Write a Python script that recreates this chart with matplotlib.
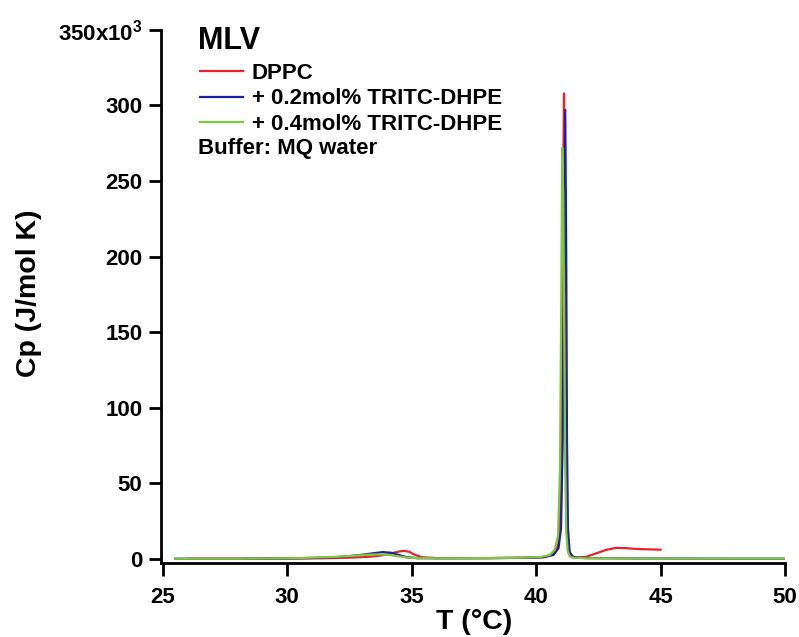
import matplotlib.pyplot as plt
from matplotlib.ticker import FuncFormatter

plt.rcParams['font.family'] = ['Liberation Sans', 'DejaVu Sans']
plt.rcParams['font.weight'] = 'bold'
plt.rcParams['mathtext.fontset'] = 'custom'
plt.rcParams['mathtext.bf'] = 'Liberation Sans:bold'

# Cp values in kJ/(mol K) (axis shows x10^3)
T_dppc = [26.0, 28.0, 30.0, 31.5, 32.5, 33.3, 33.8, 34.2, 34.5, 34.7, 34.9, 35.1, 35.4,
          36.0, 38.0, 39.5, 40.3, 40.7, 40.9, 41.0, 41.05, 41.09, 41.12, 41.15, 41.18,
          41.22, 41.3, 41.45, 41.7, 42.0, 42.4, 42.8, 43.2, 43.6, 44.0, 44.5, 45.0]
cp_dppc = [0.0, 0.0, 0.1, 0.3, 0.7, 1.3, 2.2, 3.6, 4.8, 5.2, 4.6, 2.8, 1.0,
           0.4, 0.4, 0.6, 1.0, 3.0, 10.0, 40.0, 120.0, 250.0, 308.0, 250.0, 110.0,
           30.0, 6.0, 1.5, 0.8, 1.2, 3.5, 5.8, 7.2, 7.0, 6.5, 6.2, 6.0]

T_02 = [25.5, 28.0, 30.0, 31.0, 32.0, 32.5, 33.0, 33.5, 33.85, 34.2, 34.5, 34.8, 35.2,
        36.0, 38.0, 39.5, 40.3, 40.7, 40.9, 41.0, 41.07, 41.12, 41.17, 41.21, 41.24,
        41.28, 41.35, 41.5, 42.0, 44.0, 46.0, 48.0, 50.0]
cp_02 = [0.0, 0.0, 0.2, 0.5, 1.1, 1.7, 2.6, 3.7, 4.4, 3.9, 2.4, 1.0, 0.4,
         0.3, 0.4, 0.6, 1.0, 2.5, 7.0, 20.0, 80.0, 200.0, 297.0, 200.0, 80.0,
         20.0, 4.0, 1.0, 0.4, 0.2, 0.1, 0.0, 0.0]

T_04 = [25.5, 28.0, 30.0, 31.0, 32.0, 32.7, 33.2, 33.6, 34.0, 34.4, 34.8, 35.3,
        36.0, 38.0, 39.5, 40.2, 40.55, 40.75, 40.88, 40.96, 41.01, 41.05, 41.09, 41.13,
        41.17, 41.21, 41.27, 41.35, 41.5, 42.0, 44.0, 46.0, 48.0, 50.0]
cp_04 = [0.0, 0.0, 0.3, 0.7, 1.3, 2.0, 2.6, 2.9, 2.7, 1.8, 0.8, 0.4,
         0.3, 0.4, 0.7, 1.2, 2.5, 6.0, 15.0, 60.0, 170.0, 272.0, 240.0, 150.0,
         60.0, 18.0, 5.0, 1.5, 0.6, 0.3, 0.2, 0.1, 0.1, 0.1]

series_labels = ['DPPC', '+ 0.2mol% TRITC-DHPE', '+ 0.4mol% TRITC-DHPE']
colors = ['#ec2228', '#1e1eaa', '#7ec83c']
y_ticks = [0, 50, 100, 150, 200, 250, 300, 350]
x_ticks = [25, 30, 35, 40, 45, 50]

fig = plt.figure(figsize=(7.99, 6.37), dpi=100)
ax = fig.add_axes([0.2015, 0.116, 0.781, 0.837])

ax.plot(T_dppc, cp_dppc, color=colors[0], lw=1.6, label=series_labels[0])
ax.plot(T_02, cp_02, color=colors[1], lw=1.6, label=series_labels[1])
ax.plot(T_04, cp_04, color=colors[2], lw=1.6, label=series_labels[2])

ax.set_xlim(24.93, 50)
ax.set_ylim(-2.9, 350)
ax.set_xticks(x_ticks)
ax.set_yticks(y_ticks)

def yfmt(v, pos):
    if v == 350:
        return r'350x10$^{\mathbf{3}}$'
    return '%d' % v

ax.yaxis.set_major_formatter(FuncFormatter(yfmt))

for s in ['top', 'right']:
    ax.spines[s].set_visible(False)
for s in ['left', 'bottom']:
    ax.spines[s].set_linewidth(2)
ax.tick_params(direction='out', length=9, width=2, labelsize=16)
ax.tick_params(axis='x', pad=8)
ax.tick_params(axis='y', pad=4.3)

ax.set_xlabel('T (°C)', fontsize=20.5, fontweight='bold')
ax.set_ylabel('Cp (J/mol K)', fontsize=20.5, fontweight='bold')
ax.xaxis.set_label_coords(0.502, -0.086)
ax.yaxis.set_label_coords(-0.19, 0.507)

ax.text(0.059, 1.0075, 'MLV', transform=ax.transAxes, fontsize=22, fontweight='bold',
        va='top', ha='left')
ax.legend(loc='upper left', bbox_to_anchor=(0.0625, 0.938), frameon=False, fontsize=16,
          handlelength=1.94, handletextpad=0.4, labelspacing=0.2, borderpad=0.0,
          borderaxespad=0.0)
ax.text(0.059, 0.797, 'Buffer: MQ water', transform=ax.transAxes, fontsize=16,
        fontweight='bold', va='top', ha='left')

fig.savefig('out.png', dpi=100)
